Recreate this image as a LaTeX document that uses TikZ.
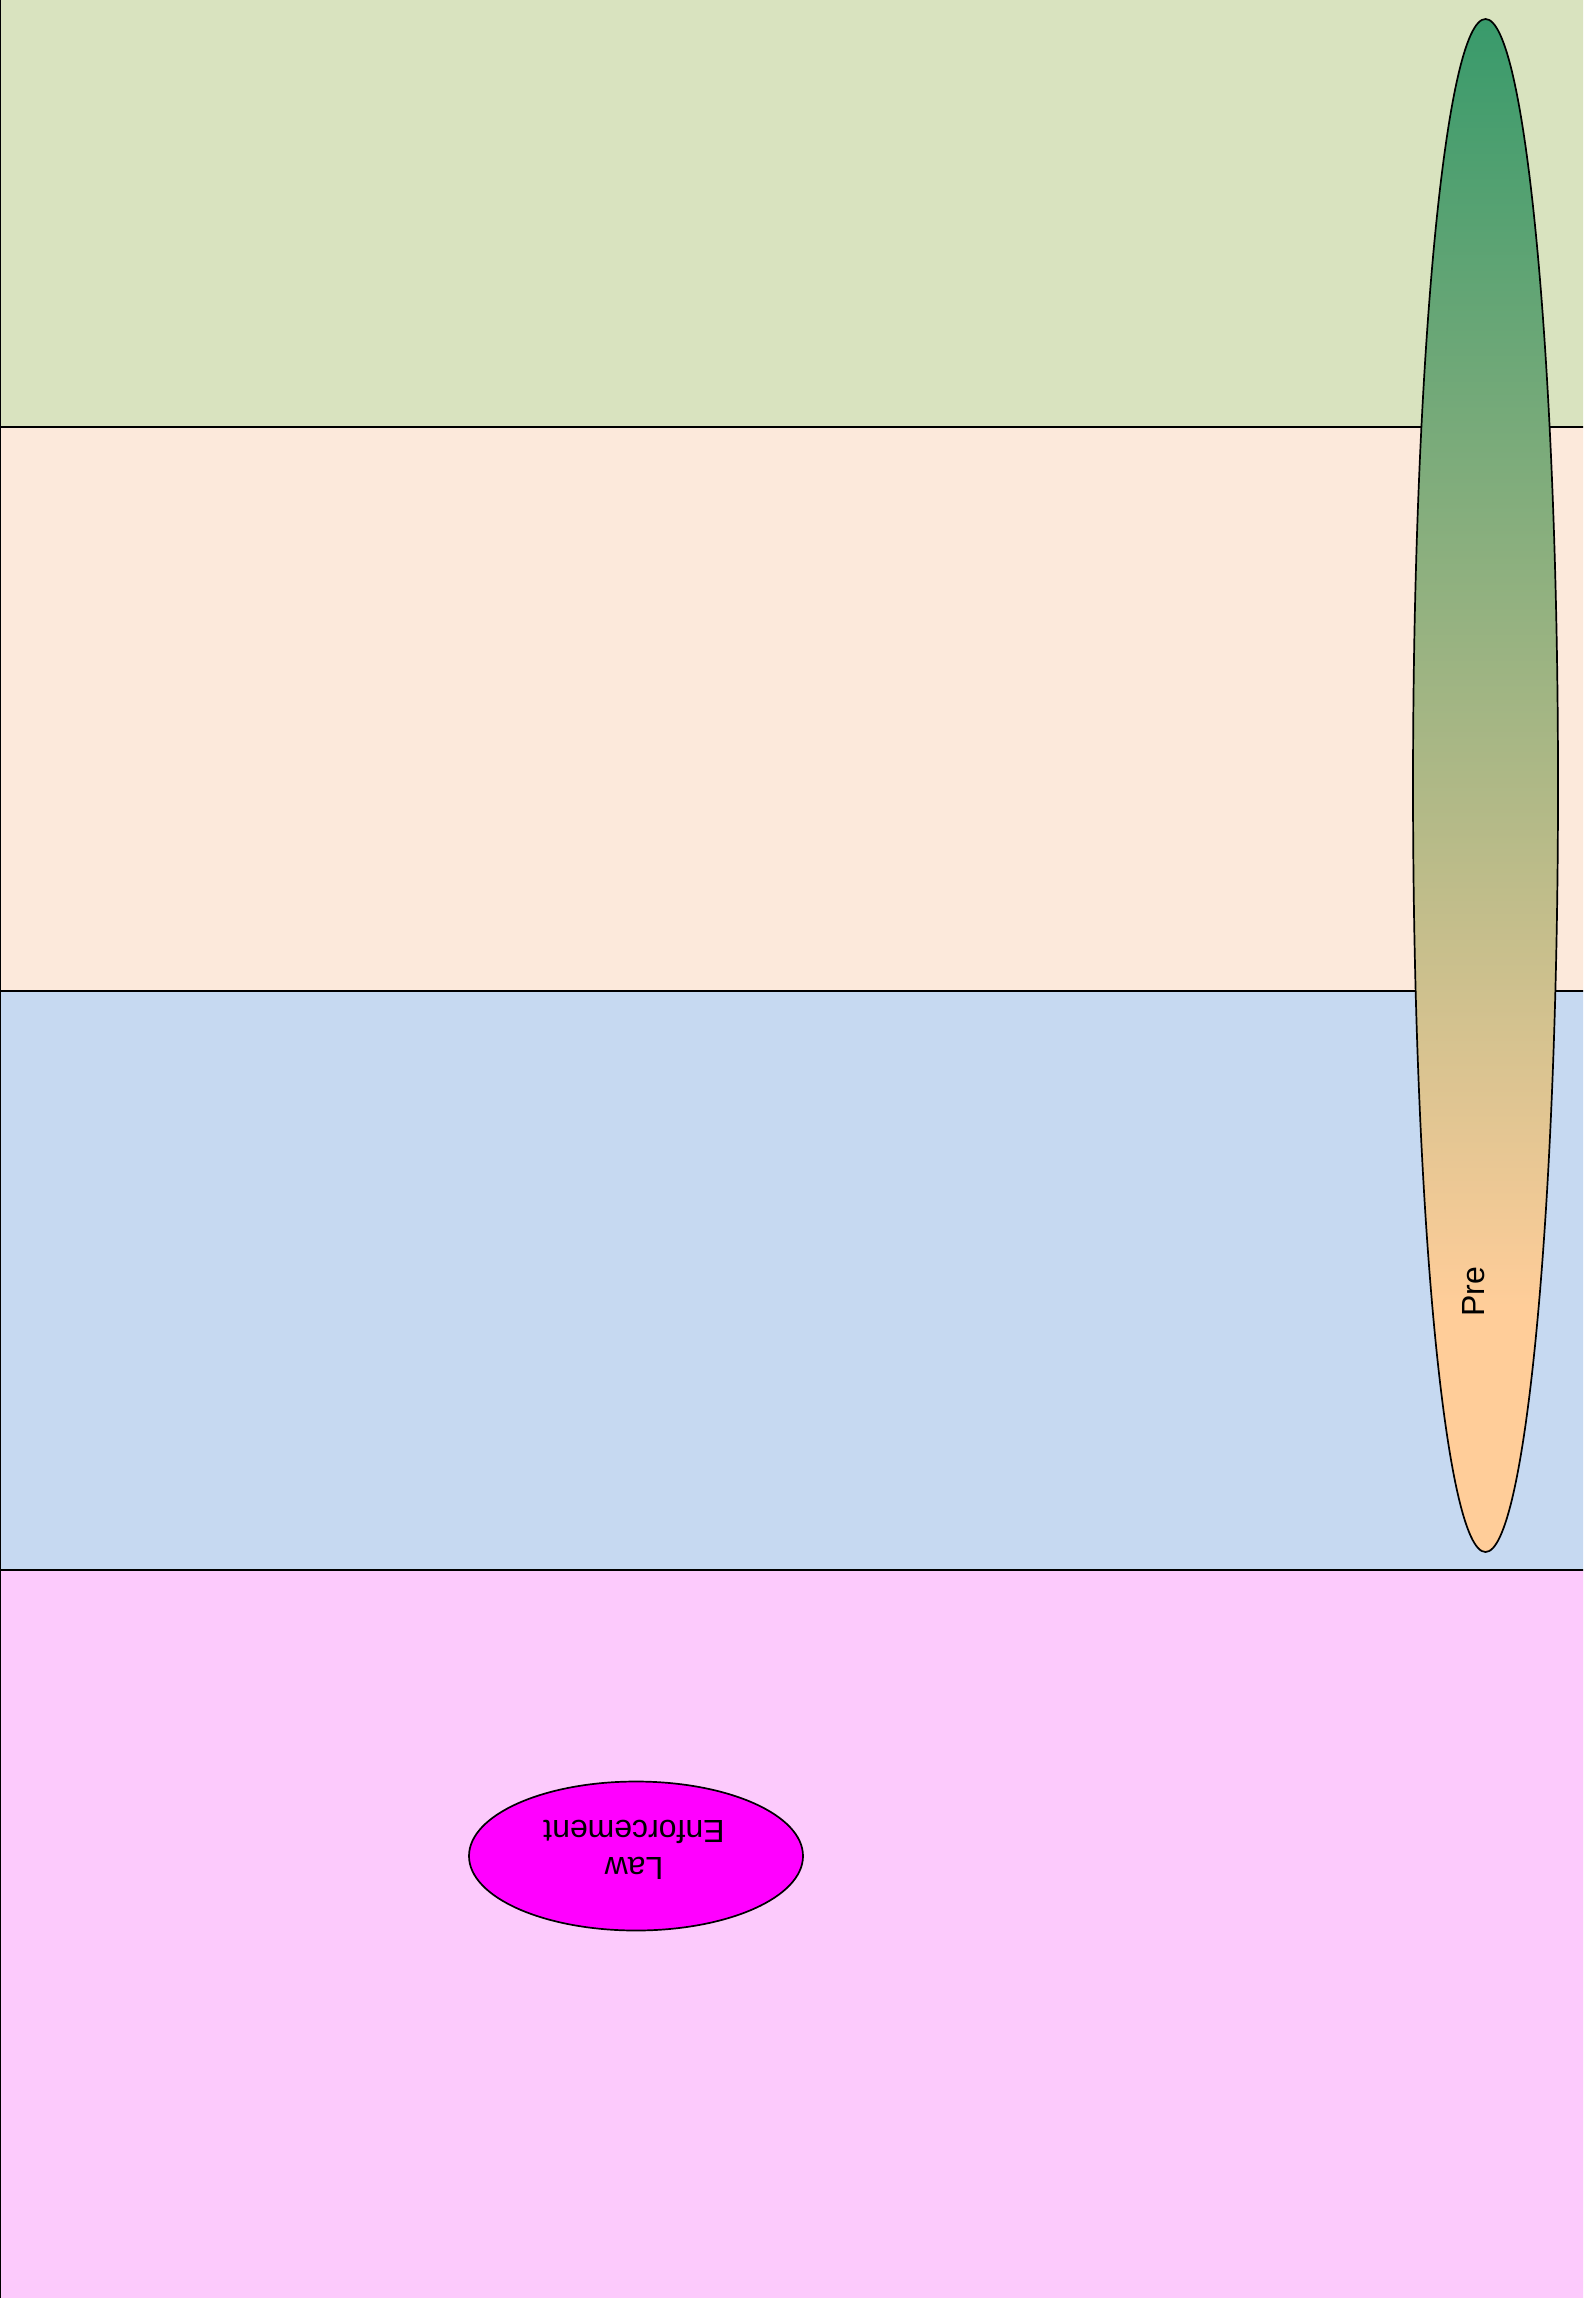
\documentclass[tikz,border=0pt]{standalone}
\usepackage{fontspec}
\setmainfont{Liberation Sans}
\usetikzlibrary{shapes.geometric}
\definecolor{bandgreen}{HTML}{D9E3BF}
\definecolor{bandpeach}{HTML}{FCE9DB}
\definecolor{bandblue}{HTML}{C6D9F1}
\definecolor{bandpink}{HTML}{FCCAFC}
\definecolor{gradtop}{HTML}{34996A}
\definecolor{gradbot}{HTML}{FFCD99}
\definecolor{magentafill}{HTML}{FF00FF}
\pgfdeclareverticalshading{preshading}{100bp}{color(0bp)=(gradbot); color(33bp)=(gradbot); color(76bp)=(gradtop); color(100bp)=(gradtop)}
\tikzset{
  band/.style={draw=black, line width=2pt},
  lbl/.style={font=\fontsize{32}{37}\selectfont, text=black, inner sep=0pt}
}
\begin{document}
\begin{tikzpicture}[x=1pt,y=-1pt]
\useasboundingbox (0,0) rectangle (1583,2298);
\begin{scope}
\clip (0,0) rectangle (1583,2298);
\fill[bandgreen] (0,0) rectangle (1600,426.5);
\fill[bandpeach] (0,426.5) rectangle (1600,991);
\fill[bandblue] (0,991) rectangle (1600,1569.5);
\fill[bandpink] (0,1569.5) rectangle (1600,2320);
\draw[band] (0,-10) -- (0,2320);
\draw[band] (0,426.5) -- (1600,426.5);
\draw[band] (0,991) -- (1600,991);
\draw[band] (0,1569.5) -- (1600,1569.5);
\node[ellipse, draw=black, line width=1.7pt, shading=preshading,
      minimum width=145, minimum height=1533, inner sep=0pt] (pre) at (1485.5,785.5) {};
\node[lbl, rotate=90] (pretext) at (1474,1292) {Pre};
\node[ellipse, draw=black, line width=1.7pt, fill=magentafill,
      minimum width=334, minimum height=149, inner sep=0pt] (law) at (636,1856) {};
\node[lbl, rotate=180, align=center] (lawtext) at (634,1850) {Law\\Enforcement};
\end{scope}
\end{tikzpicture}
\end{document}
